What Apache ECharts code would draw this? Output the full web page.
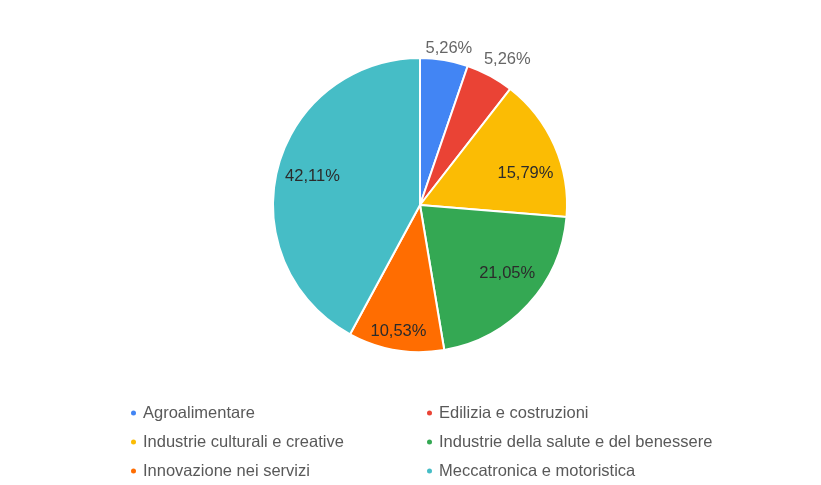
<!DOCTYPE html>
<html>
<head>
<meta charset="utf-8">
<script src="https://cdn.jsdelivr.net/npm/echarts@6/dist/echarts.min.js"></script>
<style>
    html, body { margin: 0; padding: 0; background: #fff; }
    #chart { width: 821px; height: 485px; }
</style>
</head>
<body>
<div id="chart"></div>
<script>
    // settori e quote (%)
    const categories = [
        'Agroalimentare',
        'Edilizia e costruzioni',
        'Industrie culturali e creative',
        'Industrie della salute e del benessere',
        'Innovazione nei servizi',
        'Meccatronica e motoristica'
    ];
    const shares = [5.26, 5.26, 15.79, 21.05, 10.53, 42.11];
    const colors = ['#4285F4', '#EA4335', '#FBBC04', '#34A853', '#FF6D01', '#46BDC6'];

    // piccoli aggiustamenti di posizione delle etichette (stile)
    const labelNudge = [[-24, -10], [-12, -14], [2, 14], [4, -8], [-3, 15], [2, -1]];

    const fmt = v => v.toFixed(2).replace('.', ',') + '%';
    const FONT = 'Liberation Sans, Arial, sans-serif';

    // slices piccole: etichetta fuori
    const isSmall = v => v < 8;

    const pieData = categories.map((name, i) => ({
        name: name,
        value: shares[i],
        itemStyle: { color: colors[i] },
        label: { show: isSmall(shares[i]), offset: labelNudge[i] }
    }));

    const labelData = categories.map((name, i) => ({
        name: name,
        value: shares[i],
        label: { show: !isSmall(shares[i]), offset: labelNudge[i] }
    }));

    const legendBase = {
        orient: 'vertical',
        top: 404,
        padding: 0,
        height: 80,
        itemGap: 11,
        icon: 'circle',
        itemWidth: 7,
        itemHeight: 7,
        selectedMode: false,
        textStyle: {
            color: '#595959',
            fontSize: 16.5,
            fontFamily: FONT,
            lineHeight: 18,
            padding: [0, 0, 0, 1]
        }
    };

    const myChart = echarts.init(document.getElementById('chart'));
    myChart.setOption({
        animation: false,
        legend: [
            Object.assign({}, legendBase, { left: 129, data: [categories[0], categories[2], categories[4]] }),
            Object.assign({}, legendBase, { left: 425, data: [categories[1], categories[3], categories[5]] })
        ],
        series: [
            {
                name: 'settori',
                type: 'pie',
                center: [420, 205],
                radius: [0, 147],
                startAngle: 90,
                clockwise: true,
                avoidLabelOverlap: false,
                itemStyle: { borderColor: '#fff', borderWidth: 2 },
                label: {
                    position: 'outside',
                    formatter: p => fmt(p.value),
                    color: '#666',
                    fontSize: 16.5,
                    fontFamily: FONT
                },
                labelLine: { show: false, length: 2, length2: 0 },
                emphasis: { disabled: true },
                data: pieData
            },
            {
                // solo etichette interne, anello trasparente
                name: 'etichette',
                type: 'pie',
                silent: true,
                center: [420, 205],
                radius: [73, 147],
                startAngle: 90,
                clockwise: true,
                itemStyle: { color: 'transparent', borderWidth: 0 },
                label: {
                    position: 'inside',
                    formatter: p => fmt(p.value),
                    color: '#2b2b2b',
                    fontSize: 16.5,
                    fontFamily: FONT
                },
                labelLine: { show: false },
                emphasis: { disabled: true },
                data: labelData
            }
        ]
    });
</script>
</body>
</html>
